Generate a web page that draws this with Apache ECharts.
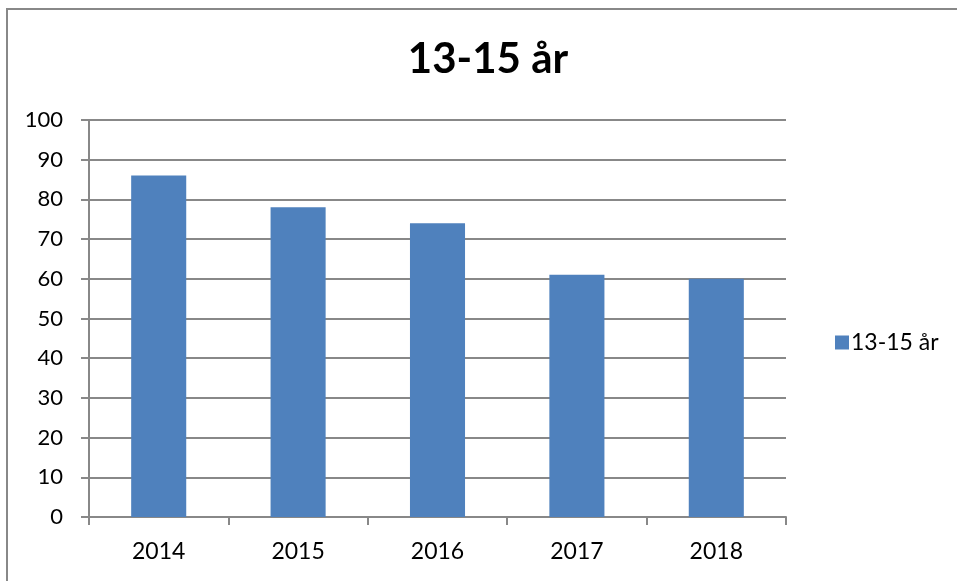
<!DOCTYPE html>
<html>
<head>
<meta charset="utf-8">
<script src="https://cdn.jsdelivr.net/npm/echarts@6/dist/echarts.min.js"></script>
<style>html,body{margin:0;padding:0;background:#fff}#c{width:957px;height:581px}</style>
</head>
<body>
<div id="c"></div>
<script>
var titleText = '13-15 år';
var seriesName = '13-15 år';
var categories = ['2014', '2015', '2016', '2017', '2018'];
var values = [86, 78, 74, 61, 60];
var yMin = 0, yMax = 100, yStep = 10;

var chart = echarts.init(document.getElementById('c'), null, {renderer: 'canvas'});
var font = 'Lato, "Open Sans", sans-serif';
chart.setOption({
  animation: false,
  backgroundColor: '#fff',
  graphic: [{
    type: 'rect', shape: {x: 7, y: 9, width: 1200, height: 1200},
    style: {fill: 'none', stroke: '#888', lineWidth: 2}, z: 0
  }, {
    type: 'text', x: 488, y: 59,
    style: {text: titleText, fontFamily: font, fontWeight: 'bold', fontSize: 42, fill: '#000',
      textAlign: 'center', textVerticalAlign: 'middle'}
  }],
  legend: {
    data: [seriesName], left: 830, top: 326, orient: 'vertical',
    itemWidth: 14, itemHeight: 14, itemGap: 0,
    icon: 'rect',
    textStyle: {fontFamily: font, fontSize: 23, color: '#000', padding: [0, 0, 0, -3]}
  },
  grid: {left: 89, right: 171, top: 120, bottom: 64, containLabel: false},
  xAxis: {
    type: 'category', data: categories,
    axisLine: {lineStyle: {color: '#888', width: 2}},
    axisTick: {show: true, length: 8, lineStyle: {color: '#888', width: 2}},
    axisLabel: {fontFamily: font, fontSize: 23, color: '#000', margin: 23}
  },
  yAxis: {
    type: 'value', min: yMin, max: yMax, interval: yStep,
    axisLine: {show: true, lineStyle: {color: '#888', width: 2}},
    axisTick: {show: true, length: 8, lineStyle: {color: '#888', width: 2}},
    splitLine: {lineStyle: {color: '#888', width: 2}},
    axisLabel: {fontFamily: font, fontSize: 22, color: '#000', margin: 26}
  },
  series: [{
    name: seriesName, type: 'bar', data: values,
    barWidth: '39.5%',
    itemStyle: {color: '#4F81BD'}
  }]
});
</script>
</body>
</html>
